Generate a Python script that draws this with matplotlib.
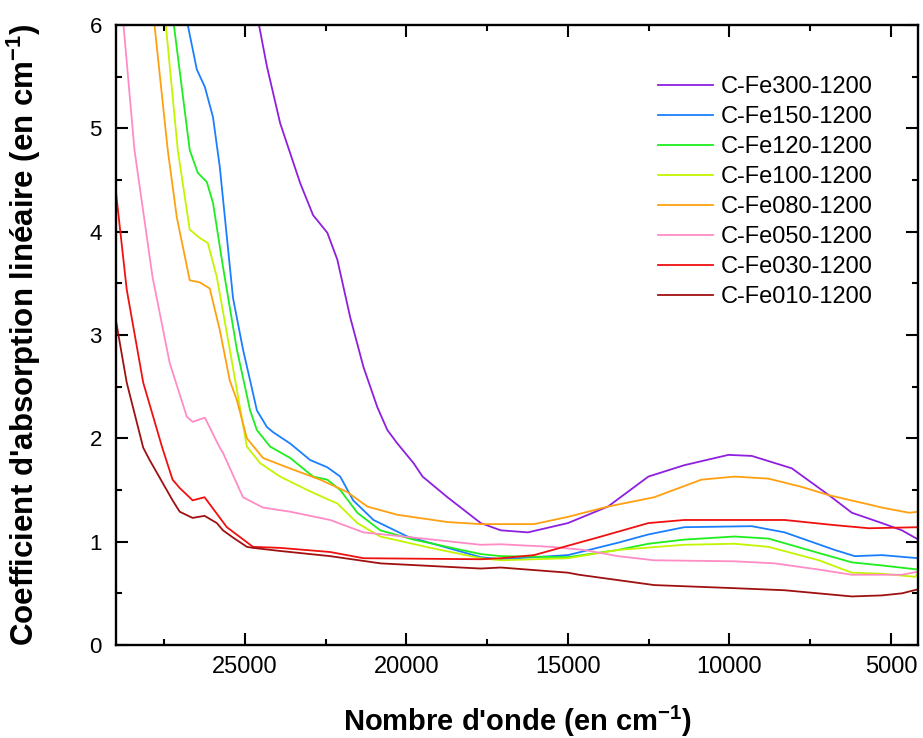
import matplotlib
matplotlib.use('Agg')
import matplotlib.pyplot as plt
from matplotlib.ticker import MultipleLocator

plt.rcParams['font.family'] = ['Liberation Sans', 'DejaVu Sans']
plt.rcParams['mathtext.fontset'] = 'custom'
plt.rcParams['mathtext.rm'] = 'Liberation Sans'
plt.rcParams['mathtext.bf'] = 'Liberation Sans:bold'

# spectres d'absorption (nombre d'onde en cm-1, coefficient en cm-1)
noms = ['C-Fe300-1200', 'C-Fe150-1200', 'C-Fe120-1200', 'C-Fe100-1200',
        'C-Fe080-1200', 'C-Fe050-1200', 'C-Fe030-1200', 'C-Fe010-1200']
couleurs = ['#8F1FDF', '#1A7FFF', '#1EEE1E', '#C4F500',
            '#FFA010', '#FF8CC6', '#F01010', '#A01010']

x_fe300 = [24700, 24565, 24320, 23910, 23290, 22890, 22450, 22140, 21740, 21330, 20900,
           20590, 20280, 19780, 19500, 18730, 17700, 17080, 16240, 15000, 13760, 12510,
           11400, 10030, 9310, 8070, 6920, 6210, 5280, 4660, 4150]
y_fe300 = [6.3, 6.0, 5.6, 5.05, 4.47, 4.16, 3.99, 3.73, 3.17, 2.69, 2.30,
           2.08, 1.95, 1.76, 1.63, 1.43, 1.18, 1.11, 1.09, 1.18, 1.34, 1.63,
           1.74, 1.84, 1.83, 1.71, 1.45, 1.28, 1.18, 1.11, 1.02]

x_fe150 = [26900, 26770, 26490, 26240, 25990, 25780, 25370, 25060, 24840, 24630, 24320,
           24130, 23600, 22980, 22450, 22050, 21650, 21020, 19970, 17700, 17080, 15000,
           13450, 12510, 11400, 9310, 8290, 6740, 6120, 5280, 4150]
y_fe150 = [6.3, 6.0, 5.57, 5.40, 5.11, 4.63, 3.36, 2.86, 2.56, 2.27, 2.11,
           2.06, 1.95, 1.79, 1.72, 1.63, 1.40, 1.21, 1.05, 0.85, 0.83, 0.87,
           0.99, 1.07, 1.14, 1.15, 1.09, 0.92, 0.86, 0.87, 0.84]

x_fe120 = [27300, 27200, 26710, 26460, 26180, 25990, 25680, 25250, 24840, 24630, 24220,
           23600, 22890, 22450, 22050, 21520, 20810, 19780, 17700, 17080, 15000, 13450,
           12510, 11400, 9840, 8790, 7230, 6210, 5280, 4150]
y_fe120 = [6.3, 6.0, 4.79, 4.57, 4.48, 4.28, 3.66, 2.86, 2.27, 2.08, 1.92,
           1.81, 1.63, 1.60, 1.50, 1.28, 1.11, 1.02, 0.88, 0.86, 0.85, 0.92,
           0.98, 1.02, 1.05, 1.03, 0.89, 0.80, 0.77, 0.73]

x_fe100 = [27550, 27450, 27080, 26710, 26400, 26150, 25870, 25470, 24940, 24530, 23910,
           23070, 22580, 22140, 21520, 20810, 19250, 17700, 17080, 15000, 13450, 11400,
           9840, 8790, 7230, 6210, 5280, 4250, 4150]
y_fe100 = [6.3, 6.0, 4.79, 4.02, 3.94, 3.89, 3.56, 2.86, 1.92, 1.76, 1.63,
           1.50, 1.43, 1.37, 1.18, 1.05, 0.94, 0.84, 0.82, 0.84, 0.92, 0.97,
           0.98, 0.95, 0.82, 0.70, 0.69, 0.66, 0.70]

x_fe080 = [27900, 27800, 27390, 27110, 26710, 26400, 26090, 25780, 25470, 25250, 24940,
           24440, 23700, 22670, 21830, 21210, 20280, 18730, 17700, 16050, 15000, 13760,
           12330, 10870, 9840, 8790, 7760, 6920, 5680, 5280, 4440, 4150]
y_fe080 = [6.3, 6.0, 4.79, 4.14, 3.53, 3.51, 3.45, 3.05, 2.56, 2.37, 2.00,
           1.81, 1.72, 1.60, 1.48, 1.34, 1.26, 1.19, 1.17, 1.17, 1.24, 1.34,
           1.43, 1.60, 1.63, 1.61, 1.53, 1.45, 1.36, 1.33, 1.28, 1.29]

x_fe050 = [28900, 28760, 28420, 27860, 27330, 26800, 26620, 26240, 25780, 25680, 25060,
           24440, 23600, 22360, 21330, 19780, 17700, 17080, 15530, 14500, 13450, 12330,
           9840, 8600, 7230, 6210, 4660, 4150]
y_fe050 = [6.4, 6.0, 4.79, 3.56, 2.73, 2.21, 2.16, 2.20, 1.91, 1.86, 1.43,
           1.33, 1.29, 1.21, 1.09, 1.04, 0.97, 0.975, 0.95, 0.92, 0.86, 0.82,
           0.81, 0.79, 0.73, 0.68, 0.68, 0.71]

x_fe030 = [29000, 28660, 28150, 27560, 27240, 27020, 26620, 26250, 25560, 24750, 23910,
           22360, 21330, 17700, 17080, 16050, 13970, 12510, 11400, 8290, 6740, 5680, 4150]
y_fe030 = [4.40, 3.44, 2.54, 1.91, 1.60, 1.52, 1.40, 1.43, 1.14, 0.95, 0.94,
           0.90, 0.84, 0.83, 0.84, 0.87, 1.05, 1.18, 1.21, 1.21, 1.16, 1.13, 1.14]

x_fe010 = [29000, 28660, 28150, 27950, 27240, 27020, 26620, 26250, 25870, 25680, 25370,
           24940, 24750, 23910, 22360, 20800, 17700, 17080, 15000, 14660, 12330, 9840,
           8290, 6210, 5280, 4660, 4150]
y_fe010 = [3.15, 2.54, 1.91, 1.79, 1.40, 1.29, 1.23, 1.25, 1.18, 1.11, 1.04,
           0.95, 0.94, 0.91, 0.86, 0.79, 0.74, 0.75, 0.70, 0.68, 0.58, 0.55,
           0.53, 0.47, 0.48, 0.50, 0.54]

series_x = [x_fe300, x_fe150, x_fe120, x_fe100, x_fe080, x_fe050, x_fe030, x_fe010]
series_y = [y_fe300, y_fe150, y_fe120, y_fe100, y_fe080, y_fe050, y_fe030, y_fe010]

fig = plt.figure(figsize=(9.23, 7.38), dpi=100)
ax = fig.add_axes([0.1254, 0.126, 0.8696, 0.8401])

for xs, ys, nom, c in zip(series_x, series_y, noms, couleurs):
    ax.plot(xs, ys, color=c, lw=1.3, label=nom)

ax.set_xlim(29000, 4150)
ax.set_ylim(0, 6)
ax.xaxis.set_major_locator(MultipleLocator(5000))
ax.xaxis.set_minor_locator(MultipleLocator(2500))
ax.yaxis.set_major_locator(MultipleLocator(1))
ax.yaxis.set_minor_locator(MultipleLocator(0.5))
ax.tick_params(which='both', direction='in', top=True, right=True, width=1.5)
ax.tick_params(which='major', length=8.5)
ax.tick_params(which='minor', length=4.5)
ax.tick_params(axis='x', labelsize=17, pad=8)
ax.tick_params(axis='y', labelsize=16, pad=10)
for s in ax.spines.values():
    s.set_linewidth(1.7)

ax.set_xlabel(r"Nombre d'onde (en cm$^{\mathbf{-1}}$)", fontsize=21, fontweight='bold')
ax.set_ylabel(r"Coefficient d'absorption linéaire (en cm$^{\mathbf{-1}}$)", fontsize=22.5, fontweight='bold')
ax.xaxis.set_label_coords(0.5, -0.095)
ax.yaxis.set_label_coords(-0.091, 0.5)

ax.legend(loc='upper left', bbox_to_anchor=(658 / 923, 1 - 76 / 738),
          bbox_transform=fig.transFigure, frameon=False, fontsize=17,
          handlelength=2.33, handletextpad=0.33, labelspacing=0.34,
          borderpad=0, borderaxespad=0)

plt.savefig('out.png', dpi=100)
